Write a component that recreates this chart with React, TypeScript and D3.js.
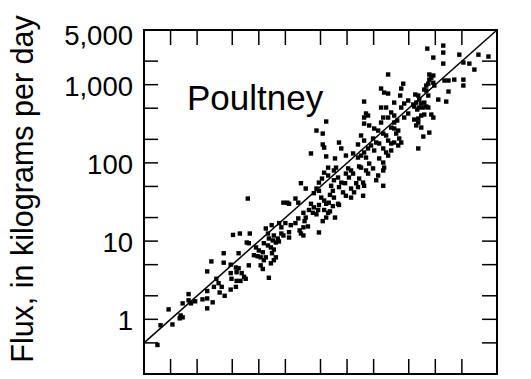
import React from 'react';
import * as d3 from 'd3';

// Streamflow (x) vs. flux (y), one pair per sample
const discharge = [
  5.1, 4.0, 2.9, 4.0, 4.8, 2.6, 4.8, 4.9, 3.3, 3.5,
  3.1, 3.8, 4.8, 2.6, 3.6, 1.6, 4.1, 2.6, 2.3, 1.6,
  1.9, 1.37, 1.7, 3.0, 2.6, 0.95, 1.3, 1.37, 1.27, 1.05,
  0.77, 0.71,
  7.5, 19, 21, 22, 17, 18, 14, 12, 22, 18,
  19, 12.7, 6.1, 7.9, 14.8, 16.4, 22, 13, 14.4, 15.6,
  16.9, 7.3, 7.7, 11.4, 12.7, 9.3, 10, 11.1, 13.7, 14.8,
  14.1, 15.6, 5.9, 8.8, 9.7, 10.5, 12, 11.4, 5.5, 5.9,
  5.6, 6.4, 6.8, 7.7, 10.5, 11.1, 5.6, 6.2, 7.1, 13,
  5.5, 20, 13.7, 14.8,
  58, 45, 53, 81, 53, 55, 133, 86, 39, 97,
  117, 133, 58, 73, 137, 75, 71, 103, 111, 97,
  117, 105, 61, 137, 55, 61, 52, 48, 79, 71,
  86, 95, 127, 133, 111, 120, 30, 34, 45, 48,
  42, 66, 69, 64, 71, 81, 90, 97, 111, 26,
  28, 51, 55, 58, 48, 62, 69, 79, 81, 39,
  42, 37, 41, 45, 47, 55, 61, 64, 73, 32,
  34, 33, 28, 26, 32, 36, 29, 32, 30, 48,
  53, 58, 152, 23,
  292, 433, 243, 263, 292, 411, 400, 156, 342, 493,
  444, 411, 243, 277, 164, 156, 173, 316, 342, 292,
  493, 444, 257, 243, 342, 370, 156, 178, 203, 225,
  316, 342, 380, 360, 257, 277, 144, 156, 197, 214,
  231, 292, 316, 342, 390, 411, 380, 187, 173, 203,
  156, 144, 164, 257, 277, 316, 292, 231, 257, 144,
  178, 197, 164, 173, 257, 263, 152, 156, 225, 214,
  257,
  811, 1230, 1230, 1870, 3080, 4000, 949, 1230, 2080, 2430,
  2770, 855, 949, 901, 855, 1270, 1410, 1640, 2080, 2080,
  832, 790, 949, 975, 750, 790, 1410, 593, 641, 832,
  1080, 1330, 658, 608, 693, 750, 562, 577, 624, 658,
  731, 790, 832, 750, 693, 641, 901, 949, 577, 641,
  608, 693, 855, 731, 641,
];

const flux = [
  12, 7.0, 5.5, 5.3, 5.0, 4.1, 3.9, 3.3, 3.3, 2.9,
  2.6, 2.6, 2.4, 2.3, 2.2, 2.1, 2.0, 1.85, 1.8, 1.75,
  1.7, 1.6, 1.6, 1.65, 1.38, 1.34, 1.12, 1.06, 1.03, 0.86,
  0.84, 0.47,
  35, 31, 31, 30, 17, 15, 16, 14.5, 13, 12.5,
  11.8, 12.5, 12.5, 12.5, 11.8, 10.8, 11.1, 10.8, 10.2, 9.6,
  9.9, 9.6, 9.4, 9.4, 8.8, 8.3, 7.6, 7.2, 8.3, 7.8,
  7.0, 6.2, 7.0, 6.6, 6.4, 6.2, 6.2, 5.7, 4.6, 4.5,
  4.0, 3.9, 3.5, 4.9, 4.9, 4.4, 3.1, 3.1, 3.3, 3.4,
  2.6, 17, 5.2, 5.7,
  338, 259, 237, 182, 172, 157, 172, 153, 132, 124,
  132, 117, 121, 114, 90, 87, 80, 85, 80, 73,
  73, 65, 87, 63, 75, 69, 63, 56, 65, 60,
  56, 55, 55, 49, 47, 42, 55, 47, 47, 44,
  41, 51, 44, 39, 36, 49, 42, 38, 36, 35,
  31, 36, 33, 30, 29, 31, 28, 30, 29, 30,
  27, 25, 23, 22, 25, 25, 23, 24, 20, 23,
  20, 18, 19.5, 17, 15, 15.4, 13.7, 11.8, 12.5, 12.9,
  18, 20, 38, 16,
  1350, 1030, 892, 793, 770, 892, 726, 608, 590, 627,
  574, 510, 510, 510, 428, 380, 403, 441, 403, 380,
  428, 380, 380, 328, 328, 348, 318, 301, 275, 259,
  283, 275, 259, 237, 237, 224, 224, 193, 205, 182,
  177, 193, 177, 182, 205, 182, 167, 167, 153, 144,
  136, 124, 117, 153, 136, 144, 124, 114, 101, 87,
  98, 85, 80, 73, 80, 87, 56, 51, 69, 60,
  51,
  2890, 3160, 2570, 2420, 2420, 2290, 2220, 1860, 1920, 1860,
  1560, 1350, 1310, 1230, 1160, 1130, 1130, 1160, 1160, 975,
  1030, 975, 1060, 975, 866, 841, 817, 748, 726, 726,
  645, 608, 645, 590, 574, 590, 557, 525, 481, 510,
  510, 525, 510, 415, 403, 369, 415, 380, 358, 328,
  301, 283, 244, 217, 153,
];

const xDomain = [0.5, 5000];
const yDomain = [0.2, 5000];
const xTicks = [1, 2, 5, 10, 20, 50, 100, 200, 500, 1000, 2000];
const yTicks = [0.5, 1, 2, 5, 10, 20, 50, 100, 200, 500, 1000, 2000];
const yLabelValues = [1, 10, 100, 1000, 5000];
const yLabels = ['1', '10', '100', '1,000', '5,000'];
const oneToOne = [0.5, 5000];

const FONT = '"Liberation Sans", Arial, Helvetica, sans-serif';

export default function App() {
  const W = 531, H = 379;
  const left = 144, right = 497, top = 30, bottom = 374;
  const tickLen = 14;

  const x = d3.scaleLog().domain(xDomain).range([left, right]);
  const y = d3.scaleLog().domain(yDomain).range([bottom, top]);

  const line = d3.line<number>().x(v => x(v)).y(v => y(v));
  const pts = discharge.map((q, i) => [q, flux[i]] as [number, number]);

  return (
    <svg width={W} height={H} style={{ position: 'fixed', left: 0, top: 0, background: '#fff' }}>
      {/* axis title */}
      <text
        transform={`translate(33,${(top + bottom) / 2 - 13}) rotate(-90)`}
        textAnchor="middle" fontFamily={FONT} fontSize={30.5} fill="#000"
      >Flux, in kilograms per day</text>

      {/* y labels */}
      {yLabelValues.map((v, i) => (
        <text key={v}
          x={133} y={Math.max(y(v), 34) + 11}
          textAnchor="end" fontFamily={FONT} fontSize={27.5} fill="#000"
        >{yLabels[i]}</text>
      ))}

      {/* ticks on all four sides, pointing inward */}
      <g stroke="#000" strokeWidth={1.5}>
        {yTicks.map(v => (
          <React.Fragment key={`y${v}`}>
            <line x1={left} x2={left + tickLen} y1={y(v)} y2={y(v)} />
            <line x1={right} x2={right - tickLen - 1} y1={y(v)} y2={y(v)} />
          </React.Fragment>
        ))}
        {xTicks.map(v => (
          <React.Fragment key={`x${v}`}>
            <line x1={x(v)} x2={x(v)} y1={top} y2={top + tickLen + 1} />
            <line x1={x(v)} x2={x(v)} y1={bottom} y2={bottom - tickLen - 1} />
          </React.Fragment>
        ))}
      </g>

      {/* points */}
      <g fill="#000">
        {pts.map(([q, f], i) => (
          <rect key={i} x={x(q) - 2.2} y={y(f) - 2.2} width={4.4} height={4.4} />
        ))}
      </g>

      {/* 1:1 line */}
      <path d={line(oneToOne) || ''} fill="none" stroke="#000" strokeWidth={1.5} />

      {/* frame */}
      <rect x={left} y={top} width={right - left} height={bottom - top}
        fill="none" stroke="#000" strokeWidth={2} />

      <text x={187} y={110} fontFamily={FONT} fontSize={35} fill="#000">Poultney</text>
    </svg>
  );
}
